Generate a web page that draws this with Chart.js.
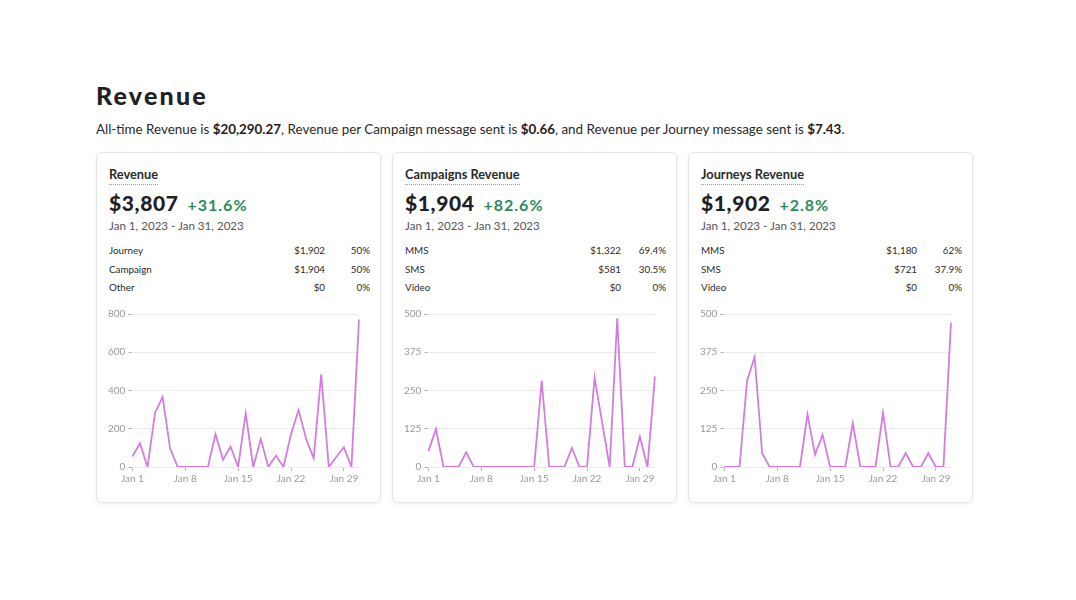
<!DOCTYPE html>
<html>
<head>
<meta charset="utf-8">
<script src="https://cdn.jsdelivr.net/npm/chart.js@4.4.1/dist/chart.umd.min.js"></script>
<style>
  html, body { margin: 0; padding: 0; background: #fff; }
  body { width: 1076px; height: 600px; position: relative; overflow: hidden;
         font-family: Lato, "Noto Sans", sans-serif; color: #222; }
  h1 { position: absolute; left: 96px; top: 80px; margin: 0; font-size: 25px; font-weight: 900;
       letter-spacing: 2.2px; color: #1f2124; }
  .sub { position: absolute; left: 96px; top: 121px; font-size: 13.4px; color: #2a2a2a; white-space: nowrap; }
  .sub b { font-weight: 700; color: #1f2124; }
  .card { position: absolute; top: 152px; width: 285px; height: 351px; background: #fff;
          border: 1px solid #e4e4e4; border-radius: 6px; box-sizing: border-box;
          box-shadow: 0 1px 4px rgba(0,0,0,0.06); }
  .card .t { position: absolute; left: 12px; top: 13px; font-size: 12.8px; font-weight: 700; color: #2b2b2b;
             padding-bottom: 2px; border-bottom: 1px dotted #999; }
  .card .big { position: absolute; left: 12px; top: 37px; font-size: 21px; font-weight: 900; color: #1f2124;
               white-space: nowrap; letter-spacing: 0.6px; }
  .card .big span { font-size: 16px; font-weight: 700; color: #2e8b57; margin-left: 9px; letter-spacing: 1px; }
  .card .date { position: absolute; left: 12px; top: 66px; font-size: 11.6px; color: #555; }
  .card .row { position: absolute; left: 12px; width: 261px; font-size: 9.8px; color: #2a2a2a; height: 12px; }
  .card .row .v { position: absolute; right: 45px; top: 0; }
  .card .row .p { position: absolute; right: 0; top: 0; }
  .card .cw { position: absolute; left: 6px; top: 152px; width: 270px; height: 182px; }
</style>
</head>
<body>
<h1>Revenue</h1>
<div class="sub">All-time Revenue is <b>$20,290.27</b>, Revenue per Campaign message sent is <b>$0.66</b>, and Revenue per Journey message sent is <b>$7.43</b>.</div>
<div id="cards"></div>
<script>
// categories (days of January 2023)
var days = ['Jan 1','Jan 2','Jan 3','Jan 4','Jan 5','Jan 6','Jan 7','Jan 8','Jan 9','Jan 10',
  'Jan 11','Jan 12','Jan 13','Jan 14','Jan 15','Jan 16','Jan 17','Jan 18','Jan 19','Jan 20',
  'Jan 21','Jan 22','Jan 23','Jan 24','Jan 25','Jan 26','Jan 27','Jan 28','Jan 29','Jan 30','Jan 31'];

// daily revenue
var revenueAll = [55,124,0,284,366,95,0,0,0,0,0,172,38,107,0,280,0,146,0,60,0,172,298,146,46,485,0,52,103,0,771];
var revenueCampaigns = [52,124,0,0,0,48,0,0,0,0,0,0,0,0,0,282,0,0,0,62,0,0,292,146,0,486,0,0,99,0,296];
var revenueJourneys = [0,0,0,282,360,45,0,0,0,0,0,172,40,105,0,0,0,143,0,0,0,177,0,0,45,0,0,45,0,0,471];

// y axis ticks
var ticksAll = [0, 200, 400, 600, 800];
var ticksSub = [0, 125, 250, 375, 500];

// card texts
var cardTitles = ['Revenue', 'Campaigns Revenue', 'Journeys Revenue'];
var cardTotals = ['$3,807', '$1,904', '$1,902'];
var cardChanges = ['+31.6%', '+82.6%', '+2.8%'];
var cardRows = [
  [['Journey', '$1,902', '50%'], ['Campaign', '$1,904', '50%'], ['Other', '$0', '0%']],
  [['MMS', '$1,322', '69.4%'], ['SMS', '$581', '30.5%'], ['Video', '$0', '0%']],
  [['MMS', '$1,180', '62%'], ['SMS', '$721', '37.9%'], ['Video', '$0', '0%']]
];
var cardSeries = [revenueAll, revenueCampaigns, revenueJourneys];
var cardTicks = [ticksAll, ticksSub, ticksSub];

var LINEA = '#d27ddf';
var GRIS = '#9a9a9a';

var cont = document.getElementById('cards');
for (var i = 0; i < 3; i++) {
  var card = document.createElement('div');
  card.className = 'card';
  card.style.left = (96 + i * 296) + 'px';
  var html = '<div class="t">' + cardTitles[i] + '</div>' +
    '<div class="big">' + cardTotals[i] + '<span>' + cardChanges[i] + '</span></div>' +
    '<div class="date">Jan 1, 2023 - Jan 31, 2023</div>';
  for (var r = 0; r < 3; r++) {
    html += '<div class="row" style="top:' + (91 + r * 18.6) + 'px">' + cardRows[i][r][0] +
      '<span class="v">' + cardRows[i][r][1] + '</span><span class="p">' + cardRows[i][r][2] + '</span></div>';
  }
  html += '<div class="cw"><canvas id="c' + i + '"></canvas></div>';
  card.innerHTML = html;
  cont.appendChild(card);
}

function grafico(id, datos, marcas) {
  var tope = marcas[marcas.length - 1];
  return new Chart(document.getElementById(id), {
    type: 'line',
    data: {
      labels: days,
      datasets: [{
        data: datos,
        borderColor: LINEA,
        borderWidth: 1.8,
        pointRadius: 0,
        tension: 0,
        fill: false
      }]
    },
    options: {
      responsive: true,
      maintainAspectRatio: false,
      animation: false,
      layout: { padding: { left: 2, right: 14, top: 4, bottom: 0 } },
      plugins: { legend: { display: false }, tooltip: { enabled: false } },
      scales: {
        x: {
          border: { display: false },
          grid: {
            drawOnChartArea: false,
            tickLength: 4,
            tickColor: function (ctx) { return ctx.index % 7 === 0 ? '#b5b5b5' : 'transparent'; }
          },
          ticks: {
            autoSkip: false, maxRotation: 0, padding: 2,
            color: GRIS, font: { family: 'Lato', size: 10 },
            callback: function (v, idx) { return idx % 7 === 0 ? days[idx] : ''; }
          }
        },
        y: {
          min: 0,
          max: tope,
          border: { display: false },
          grid: { color: '#ececec', tickColor: '#b5b5b5', tickLength: 4 },
          afterBuildTicks: function (ax) { ax.ticks = marcas.map(function (m) { return { value: m }; }); },
          ticks: { color: GRIS, padding: 3, font: { family: 'Lato', size: 10 } }
        }
      }
    }
  });
}

for (var k = 0; k < 3; k++) { grafico('c' + k, cardSeries[k], cardTicks[k]); }
</script>
</body>
</html>
